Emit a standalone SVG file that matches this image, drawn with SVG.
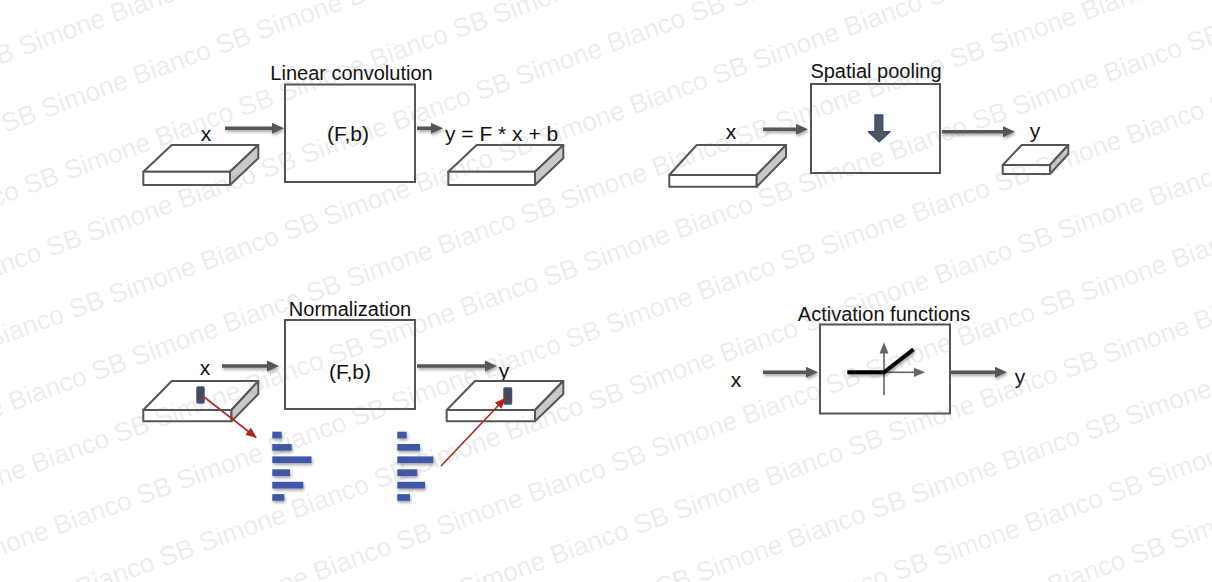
<svg xmlns="http://www.w3.org/2000/svg" xmlns:xlink="http://www.w3.org/1999/xlink" width="1212" height="582" viewBox="0 0 1212 582">
<style>
.box{fill:#fff;stroke:#555;stroke-width:2}
.ttl{font-family:"Liberation Sans",Arial,sans-serif;font-size:20px;fill:#111;text-anchor:middle}
.lbl{font-family:"Liberation Sans",Arial,sans-serif;font-size:21px;fill:#111;text-anchor:middle}
.top{fill:#fff;stroke:#555;stroke-width:2;stroke-linejoin:round}
.side{fill:#c9c9c9;stroke:#555;stroke-width:2;stroke-linejoin:round}
.arr{stroke:#565656;stroke-width:3.6;fill:none}
.red{stroke:#b3261e;stroke-width:1.6;fill:none}
.bar{fill:#3f57a7}
.cell{fill:#4a4a4a;stroke:#3b4f9a;stroke-width:1.5}
.axis{stroke:#666;stroke-width:1.6;fill:none}
.wm{font-family:"Liberation Sans",Arial,sans-serif;font-size:26.5px}
</style>
<defs>
<filter id="sh" x="-20%" y="-50%" width="140%" height="200%">
<feDropShadow dx="1" dy="2" stdDeviation="1.4" flood-color="#000" flood-opacity="0.35"/>
</filter>
<marker id="ah" markerUnits="userSpaceOnUse" markerWidth="12" markerHeight="11" refX="6" refY="5.5" orient="auto">
<path d="M0,0 L12,5.5 L0,11 z" fill="#565656"/>
</marker>
<marker id="rh" markerUnits="userSpaceOnUse" markerWidth="11" markerHeight="9" refX="10" refY="4.5" orient="auto">
<path d="M0,0 L11,4.5 L0,9 z" fill="#b3261e"/>
</marker>
<text id="wm" class="wm" x="-454.5" y="0">Simone Bianco SB Simone Bianco SB Simone Bianco SB Simone Bianco SB Simone Bianco SB Simone Bianco SB Simone Bianco SB Simone Bianco SB Simone Bianco SB</text>
</defs>
<rect width="1212" height="582" fill="#fff"/>

<g id="linear-convolution">
<text class="ttl" x="351.5" y="80">Linear convolution</text>
<rect class="box" x="285" y="84.5" width="130" height="97.5"/>
<text class="lbl" x="348" y="141">(F,b)</text>
<text class="lbl" x="206" y="141">x</text>
<text class="lbl" x="445" y="141" style="text-anchor:start">y = F * x + b</text>
<g id="lc-input-slab">
<polygon class="top" points="171.7,145 258.3,145 230,171.7 143.3,171.7"/>
<rect class="top" x="143.3" y="171.7" width="86.7" height="13.3"/>
<polygon class="side" points="230,171.7 258.3,145 258.3,158.3 230,185"/>
</g>
<g id="lc-output-slab">
<polygon class="top" points="476.7,145 563.3,145 535,171.7 448.3,171.7"/>
<rect class="top" x="448.3" y="171.7" width="86.7" height="13.3"/>
<polygon class="side" points="535,171.7 563.3,145 563.3,158.3 535,185"/>
</g>
</g>

<g id="spatial-pooling">
<text class="ttl" x="876" y="78">Spatial pooling</text>
<rect class="box" x="811" y="84" width="129" height="89"/>
<polygon points="875,115 882.7,115 882.7,131.7 890,131.7 879.2,141.7 868.3,131.7 875,131.7" fill="#555" stroke="#3b4a8c" stroke-width="1.5" stroke-linejoin="round"/>
<text class="lbl" x="731" y="138.5">x</text>
<text class="lbl" x="1035" y="137.5">y</text>
<g id="sp-input-slab">
<polygon class="top" points="696.7,145 786,145 756.7,175 669.3,175"/>
<rect class="top" x="669.3" y="175" width="87.4" height="11.7"/>
<polygon class="side" points="756.7,175 786,145 786,157 756.7,186.7"/>
</g>
<g id="sp-output-slab">
<polygon class="top" points="1021.7,145 1068.3,145 1050,165 1002.7,165"/>
<rect class="top" x="1002.7" y="165" width="47.3" height="9"/>
<polygon class="side" points="1050,165 1068.3,145 1068.3,154 1050,174"/>
</g>
</g>

<g id="normalization">
<text class="ttl" x="350" y="316">Normalization</text>
<rect class="box" x="285" y="320" width="130" height="89"/>
<text class="lbl" x="350" y="379.3">(F,b)</text>
<text class="lbl" x="205" y="375">x</text>
<text class="lbl" x="504" y="378">y</text>
<g id="nm-input-slab">
<polygon class="top" points="171.7,381 258.3,381 231.5,410 143.3,410"/>
<rect class="top" x="143.3" y="410" width="88.2" height="11.3"/>
<polygon class="side" points="231.5,410 258.3,381 258.3,394 231.5,421.3"/>
<rect class="cell" x="197" y="387" width="7" height="16" rx="1"/>
</g>
<g id="nm-output-slab">
<polygon class="top" points="475,381 563.3,381 535,410 446.7,410"/>
<rect class="top" x="446.7" y="410" width="88.3" height="11.3"/>
<polygon class="side" points="535,410 563.3,381 563.3,394 535,421.3"/>
<rect class="cell" x="504" y="388" width="7.5" height="16" rx="1"/>
</g>
<g id="nm-histogram-in" filter="url(#sh)">
<rect class="bar" x="272.3" y="431.7" width="9.4" height="6.7"/>
<rect class="bar" x="272.3" y="444" width="19.4" height="6.7"/>
<rect class="bar" x="272.3" y="456.4" width="39.2" height="6.7"/>
<rect class="bar" x="272.3" y="469.3" width="17.7" height="6.7"/>
<rect class="bar" x="272.3" y="481.8" width="31" height="6.7"/>
<rect class="bar" x="272.3" y="494.1" width="12" height="6.7"/>
</g>
<g id="nm-histogram-out" filter="url(#sh)">
<rect class="bar" x="397.3" y="431.7" width="9.4" height="6.7"/>
<rect class="bar" x="397.3" y="444" width="22.7" height="6.7"/>
<rect class="bar" x="397.3" y="456.4" width="36" height="6.7"/>
<rect class="bar" x="397.3" y="469.3" width="20" height="6.7"/>
<rect class="bar" x="397.3" y="481.8" width="27.7" height="6.7"/>
<rect class="bar" x="397.3" y="494.1" width="12.7" height="6.7"/>
</g>
</g>

<g id="activation-functions">
<text class="ttl" x="884" y="321">Activation functions</text>
<rect class="box" x="820" y="324.5" width="130" height="89"/>
<line class="axis" x1="884" y1="395" x2="884" y2="352"/>
<polygon points="879.5,353.5 884,342.3 888.5,353.5" fill="#666"/>
<line class="axis" x1="884" y1="372.3" x2="915" y2="372.3"/>
<polygon points="914,367.7 925,372.3 914,377" fill="#666"/>
<polyline points="847.3,372.3 884,372.3 913.5,349.3" fill="none" stroke="#000" stroke-width="4" filter="url(#sh)"/>
<text class="lbl" x="736" y="386.5">x</text>
<text class="lbl" x="1020" y="384">y</text>
</g>

<g id="connectors">
<g filter="url(#sh)">
<line class="arr" x1="225" y1="128.3" x2="278" y2="128.3" marker-end="url(#ah)"/>
<line class="arr" x1="417" y1="128.3" x2="437" y2="128.3" marker-end="url(#ah)"/>
<line class="arr" x1="763" y1="129.3" x2="802" y2="129.3" marker-end="url(#ah)"/>
<line class="arr" x1="942" y1="131.7" x2="1009" y2="131.7" marker-end="url(#ah)"/>
<line class="arr" x1="222" y1="366" x2="273" y2="366" marker-end="url(#ah)"/>
<line class="arr" x1="417" y1="366" x2="491" y2="366" marker-end="url(#ah)"/>
<line class="arr" x1="763" y1="372.3" x2="812" y2="372.3" marker-end="url(#ah)"/>
<line class="arr" x1="950" y1="372.3" x2="1001" y2="372.3" marker-end="url(#ah)"/>
</g>
<line class="red" x1="204" y1="397" x2="256" y2="437.3" marker-end="url(#rh)"/>
<line class="red" x1="441" y1="466" x2="505" y2="398.5" marker-end="url(#rh)"/>
</g>

<g id="watermark" transform="rotate(-20)" fill="#808080" fill-opacity="0.16">
<use xlink:href="#wm" y="60.6"/>
<use xlink:href="#wm" y="126.6"/>
<use xlink:href="#wm" y="192.6"/>
<use xlink:href="#wm" y="258.6"/>
<use xlink:href="#wm" y="324.6"/>
<use xlink:href="#wm" y="390.6"/>
<use xlink:href="#wm" y="456.6"/>
<use xlink:href="#wm" y="522.6"/>
<use xlink:href="#wm" y="588.6"/>
<use xlink:href="#wm" y="654.6"/>
<use xlink:href="#wm" y="720.6"/>
<use xlink:href="#wm" y="786.6"/>
<use xlink:href="#wm" y="852.6"/>
<use xlink:href="#wm" y="918.6"/>
</g>
</svg>
